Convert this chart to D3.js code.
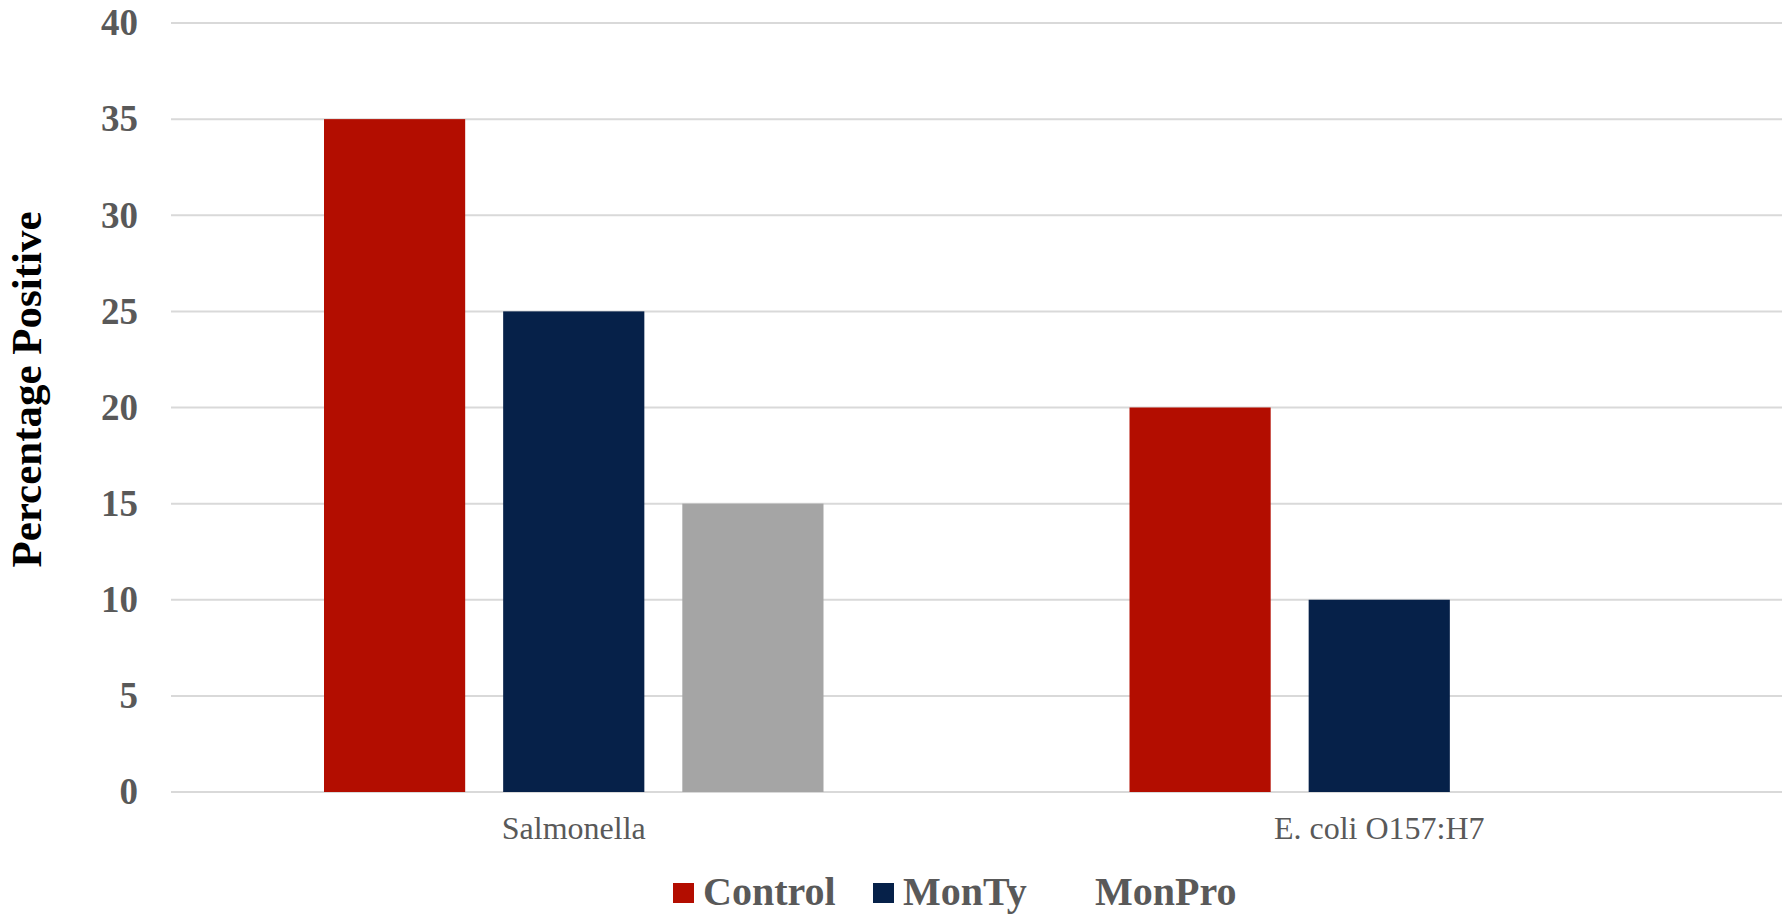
<!DOCTYPE html>
<html>
<head>
<meta charset="utf-8">
<script src="https://cdn.jsdelivr.net/npm/d3@7"></script>
<style>
  html, body { margin: 0; padding: 0; background: #ffffff; }
  svg { display: block; }
</style>
</head>
<body>
<svg id="chart" width="1788" height="914"></svg>
<script>
// Pathogen prevalence by treatment
const categories = ["Salmonella", "E. coli O157:H7"];
const seriesNames = ["Control", "MonTy", "MonPro"];
const controlValues = [35, 20];
const montyValues = [25, 10];
const monproValues = [15, 0];
const yTicks = [0, 5, 10, 15, 20, 25, 30, 35, 40];
const yTitle = "Percentage Positive";

const seriesValues = [controlValues, montyValues, monproValues];
const colors = ["#B30D00", "#062149", "#A5A5A5"];
const legendMarker = [true, true, false];

const svg = d3.select("#chart");
const margin = { left: 171, right: 6, top: 23, bottom: 122 };
const W = 1788, H = 914;
const plotRight = W - margin.right;
const plotBottom = H - margin.bottom;

const y = d3.scaleLinear().domain([0, 40]).range([plotBottom, margin.top]);
const x0 = d3.scaleBand().domain(categories).range([margin.left, plotRight]).padding(0);
const groupPad = 153;
const x1 = d3.scaleBand().domain(seriesNames)
  .range([groupPad, x0.bandwidth() - groupPad])
  .paddingInner(0.212).paddingOuter(0);

// horizontal gridlines
svg.append("g")
  .selectAll("line")
  .data(yTicks)
  .join("line")
  .attr("x1", margin.left).attr("x2", plotRight)
  .attr("y1", d => y(d)).attr("y2", d => y(d))
  .attr("stroke", "#D9D9D9").attr("stroke-width", 2);

// y tick labels
const yAxis = d3.axisLeft(y).tickValues(yTicks).tickSize(0).tickPadding(33);
const ya = svg.append("g").attr("transform", `translate(${margin.left},0)`).call(yAxis);
ya.select(".domain").remove();
ya.selectAll("text")
  .attr("font-family", "'Liberation Serif', 'Times New Roman', serif")
  .attr("font-weight", "bold")
  .attr("font-size", 37)
  .attr("fill", "#595959");

// bars
const groups = svg.append("g")
  .selectAll("g")
  .data(categories)
  .join("g")
  .attr("transform", d => `translate(${x0(d)},0)`);

groups.selectAll("rect")
  .data((c, ci) => seriesNames.map((s, si) => ({ s, si, v: seriesValues[si][ci] })))
  .join("rect")
  .attr("x", d => x1(d.s))
  .attr("width", x1.bandwidth())
  .attr("y", d => y(d.v))
  .attr("height", d => y(0) - y(d.v))
  .attr("fill", d => colors[d.si]);

// category labels
const xAxis = d3.axisBottom(x0).tickSize(0).tickPadding(24);
const xa = svg.append("g").attr("transform", `translate(0,${plotBottom})`).call(xAxis);
xa.select(".domain").remove();
xa.selectAll("text")
  .attr("font-family", "'Liberation Serif', 'Times New Roman', serif")
  .attr("font-size", 32)
  .attr("fill", "#595959");

// y axis title
svg.append("text")
  .attr("transform", `translate(41,${(margin.top + plotBottom) / 2 - 18}) rotate(-90)`)
  .attr("text-anchor", "middle")
  .attr("font-family", "'Liberation Serif', 'Times New Roman', serif")
  .attr("font-weight", "bold")
  .attr("font-size", 43)
  .attr("fill", "#000000")
  .text(yTitle);

// legend
const legendX = [673, 873, 1095];
const legend = svg.append("g");
seriesNames.forEach((name, i) => {
  if (legendMarker[i]) {
    legend.append("rect")
      .attr("x", legendX[i]).attr("y", 883)
      .attr("width", 21).attr("height", 20)
      .attr("fill", colors[i]);
  }
  legend.append("text")
    .attr("x", legendMarker[i] ? legendX[i] + 30 : legendX[i])
    .attr("y", 905)
    .attr("font-family", "'Liberation Serif', 'Times New Roman', serif")
    .attr("font-weight", "bold")
    .attr("font-size", 40)
    .attr("fill", "#595959")
    .text(name);
});
</script>
</body>
</html>
